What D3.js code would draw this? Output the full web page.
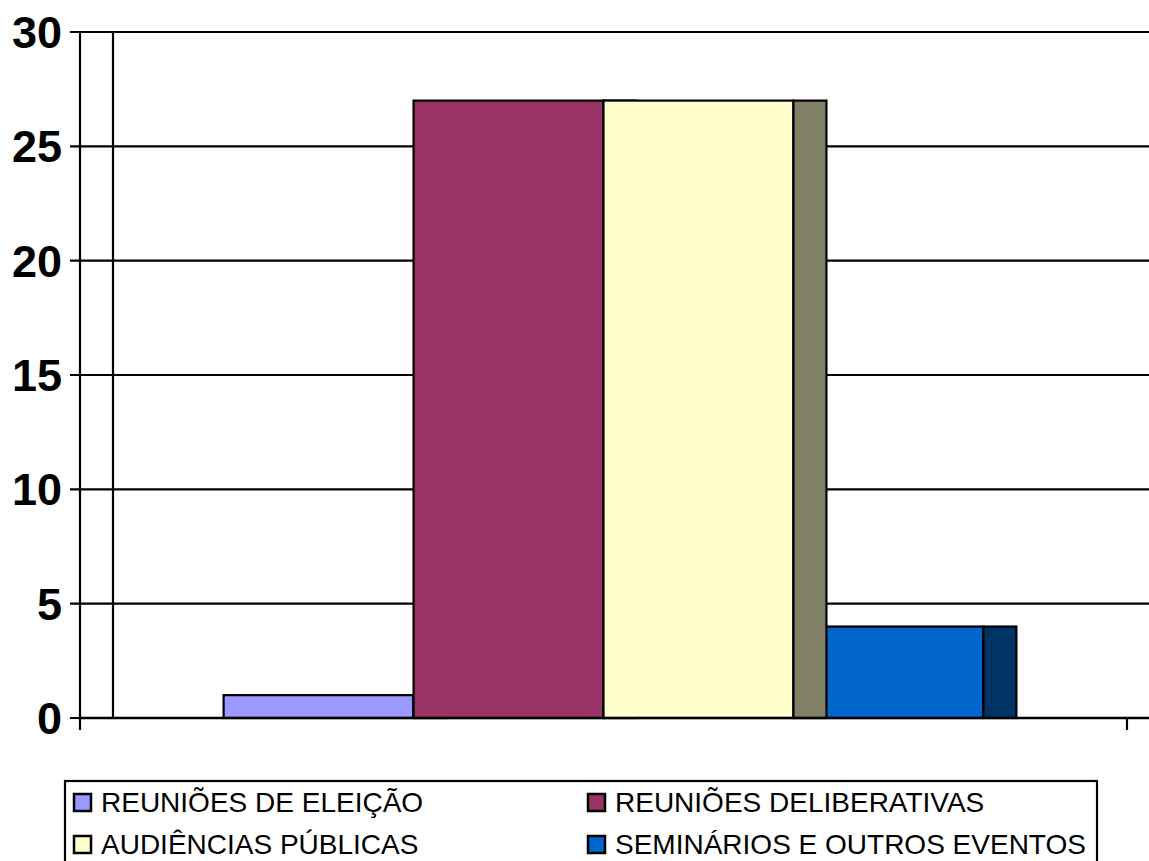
<!DOCTYPE html>
<html>
<head>
<meta charset="utf-8">
<script src="https://cdn.jsdelivr.net/npm/d3@7"></script>
<style>
  html, body { margin: 0; padding: 0; background: #fff; }
  svg { display: block; }
</style>
</head>
<body>
<svg id="chart" width="1149" height="861"></svg>
<script>
// ---- data ----
const seriesNames = ["REUNIÕES DE ELEIÇÃO", "REUNIÕES DELIBERATIVAS", "AUDIÊNCIAS PÚBLICAS", "SEMINÁRIOS E OUTROS EVENTOS"];
const seriesValues = [1, 27, 27, 4];
const frontColors = ["#9999FF", "#993366", "#FFFFCC", "#0066CC"];
const sideColors = ["#4D4D80", "#4D1A33", "#808066", "#003366"];
const yTicks = [0, 5, 10, 15, 20, 25, 30];
const category = [""];

// ---- layout ----
const svg = d3.select("#chart");
const axisLeft = 80, axisRight = 1127;
const depth = 33;
const y = d3.scaleLinear().domain([0, 30]).range([718, 32]);
const x0 = d3.scaleBand().domain(category).range([axisLeft, axisRight]).paddingOuter(0.189).paddingInner(0);
const x1 = d3.scaleBand().domain(seriesNames).range([x0(""), x0("") + x0.bandwidth()]).padding(0);

// gridlines
svg.append("g").selectAll("line").data(yTicks).join("line")
  .attr("x1", 70).attr("x2", 1149)
  .attr("y1", d => y(d)).attr("y2", d => y(d))
  .attr("stroke", "#000").attr("stroke-width", 2.2);

// back wall left edge
svg.append("line").attr("x1", axisLeft + depth).attr("x2", axisLeft + depth)
  .attr("y1", y(30)).attr("y2", y(0))
  .attr("stroke", "#000").attr("stroke-width", 2.2);

// bars (order so that each later bar covers earlier side faces; bar 4 is behind bar 3's side)
const order = [3, 0, 1, 2];
const bars = svg.append("g");
order.forEach(i => {
  const name = seriesNames[i], v = seriesValues[i];
  const bx = x1(name), bw = x1.bandwidth();
  bars.append("rect")
    .attr("x", bx).attr("y", y(v)).attr("width", bw).attr("height", y(0) - y(v))
    .attr("fill", frontColors[i]).attr("stroke", "#000").attr("stroke-width", 2.2);
  bars.append("rect")
    .attr("x", bx + bw).attr("y", y(v)).attr("width", depth).attr("height", y(0) - y(v))
    .attr("fill", sideColors[i]).attr("stroke", "#000").attr("stroke-width", 2.2);
});

// y axis
svg.append("line").attr("x1", axisLeft).attr("x2", axisLeft)
  .attr("y1", y(30)).attr("y2", y(0) + 12)
  .attr("stroke", "#000").attr("stroke-width", 2.2);
// x axis
svg.append("line").attr("x1", axisLeft).attr("x2", 1149)
  .attr("y1", y(0)).attr("y2", y(0))
  .attr("stroke", "#000").attr("stroke-width", 2.6);
svg.append("line").attr("x1", axisRight).attr("x2", axisRight)
  .attr("y1", y(0)).attr("y2", y(0) + 12)
  .attr("stroke", "#000").attr("stroke-width", 2.2);

// y tick labels
svg.append("g").selectAll("text").data(yTicks).join("text")
  .attr("x", 62).attr("y", d => y(d) + 16)
  .attr("text-anchor", "end")
  .attr("font-family", "'Liberation Sans', Arial, sans-serif")
  .attr("font-weight", "bold").attr("font-size", 45)
  .text(d => d);

// legend
const lg = svg.append("g");
lg.append("rect").attr("x", 65).attr("y", 781).attr("width", 1032).attr("height", 100)
  .attr("fill", "#fff").attr("stroke", "#000").attr("stroke-width", 2.2);
const legendPos = [[74, 812], [588, 812], [74, 854], [588, 854]];
const legendIdx = [0, 1, 2, 3];
legendIdx.forEach((i, k) => {
  const [lx, ly] = legendPos[k];
  lg.append("rect").attr("x", lx).attr("y", ly - 18).attr("width", 17).attr("height", 17)
    .attr("fill", frontColors[i]).attr("stroke", "#000").attr("stroke-width", 2.5);
  lg.append("text").attr("x", lx + 27).attr("y", ly)
    .attr("font-family", "'Liberation Sans', Arial, sans-serif")
    .attr("font-size", 28).attr("fill", "#000")
    .text(seriesNames[i]);
});
</script>
</body>
</html>
